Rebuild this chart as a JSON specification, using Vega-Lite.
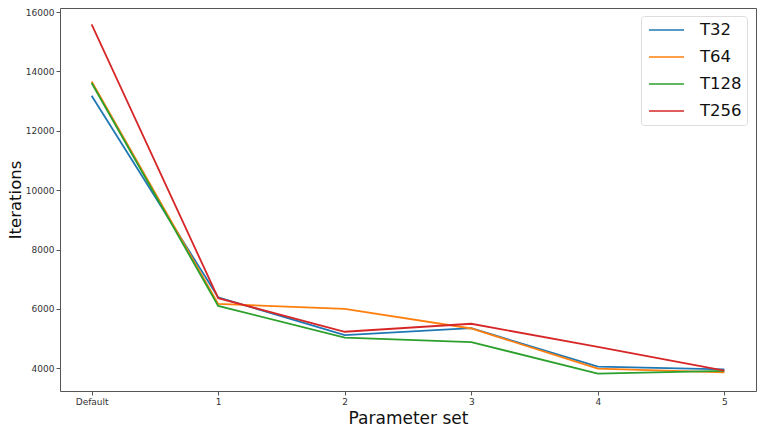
{
  "$schema": "https://vega.github.io/schema/vega-lite/v6.json",
  "autosize": {"type": "none"},
  "padding": {"left": 60, "top": 8, "right": 12, "bottom": 43},
  "width": 696,
  "height": 383,
  "background": "white",
  "config": {
    "font": "DejaVu Sans",
    "view": {"stroke": "#555", "strokeWidth": 1}
  },
  "data": {
    "values": [
      {"set": "Default", "series": "T32", "iterations": 13180},
      {"set": "1", "series": "T32", "iterations": 6390},
      {"set": "2", "series": "T32", "iterations": 5120},
      {"set": "3", "series": "T32", "iterations": 5350},
      {"set": "4", "series": "T32", "iterations": 4055},
      {"set": "5", "series": "T32", "iterations": 3960},
      {"set": "Default", "series": "T64", "iterations": 13660},
      {"set": "1", "series": "T64", "iterations": 6170},
      {"set": "2", "series": "T64", "iterations": 6000},
      {"set": "3", "series": "T64", "iterations": 5340},
      {"set": "4", "series": "T64", "iterations": 3990},
      {"set": "5", "series": "T64", "iterations": 3860},
      {"set": "Default", "series": "T128", "iterations": 13610},
      {"set": "1", "series": "T128", "iterations": 6100},
      {"set": "2", "series": "T128", "iterations": 5030},
      {"set": "3", "series": "T128", "iterations": 4880},
      {"set": "4", "series": "T128", "iterations": 3820},
      {"set": "5", "series": "T128", "iterations": 3910},
      {"set": "Default", "series": "T256", "iterations": 15580},
      {"set": "1", "series": "T256", "iterations": 6360},
      {"set": "2", "series": "T256", "iterations": 5230},
      {"set": "3", "series": "T256", "iterations": 5500},
      {"set": "4", "series": "T256", "iterations": 4720},
      {"set": "5", "series": "T256", "iterations": 3920}
    ]
  },
  "mark": {"type": "line", "strokeWidth": 1.8},
  "encoding": {
    "x": {
      "field": "set",
      "type": "ordinal",
      "sort": ["Default", "1", "2", "3", "4", "5"],
      "scale": {"type": "point", "padding": 0.25},
      "axis": {
        "title": "Parameter set",
        "titleFontSize": 17,
        "titleFontWeight": "normal",
        "titleColor": "#111",
        "titlePadding": 4,
        "labelAngle": 0,
        "labelFontSize": 9,
        "labelColor": "#333",
        "tickColor": "#555",
        "tickSize": 4,
        "domain": false,
        "grid": false
      }
    },
    "y": {
      "field": "iterations",
      "type": "quantitative",
      "scale": {"domain": [3235, 16135], "nice": false, "zero": false},
      "axis": {
        "title": "Iterations",
        "titleFontSize": 16.5,
        "titleFontWeight": "normal",
        "titleColor": "#111",
        "titlePadding": 2,
        "format": "d",
        "values": [4000, 6000, 8000, 10000, 12000, 14000, 16000],
        "labelFontSize": 9,
        "labelColor": "#333",
        "tickColor": "#555",
        "tickSize": 4,
        "domain": false,
        "grid": false
      }
    },
    "color": {
      "field": "series",
      "type": "nominal",
      "sort": ["T32", "T64", "T128", "T256"],
      "scale": {
        "domain": ["T32", "T64", "T128", "T256"],
        "range": ["#1f77b4", "#ff7f0e", "#2ca02c", "#d62728"]
      },
      "legend": {
        "title": null,
        "orient": "none",
        "legendX": 581,
        "legendY": 8,
        "symbolType": "M-0.75,0H3.625",
        "symbolSize": 256,
        "symbolStrokeWidth": 1.6,
        "labelFontSize": 16.5,
        "labelColor": "#111",
        "rowPadding": 9,
        "labelOffset": 36,
        "padding": 5,
        "strokeColor": "#ddd",
        "fillColor": "white",
        "cornerRadius": 3
      }
    }
  }
}
